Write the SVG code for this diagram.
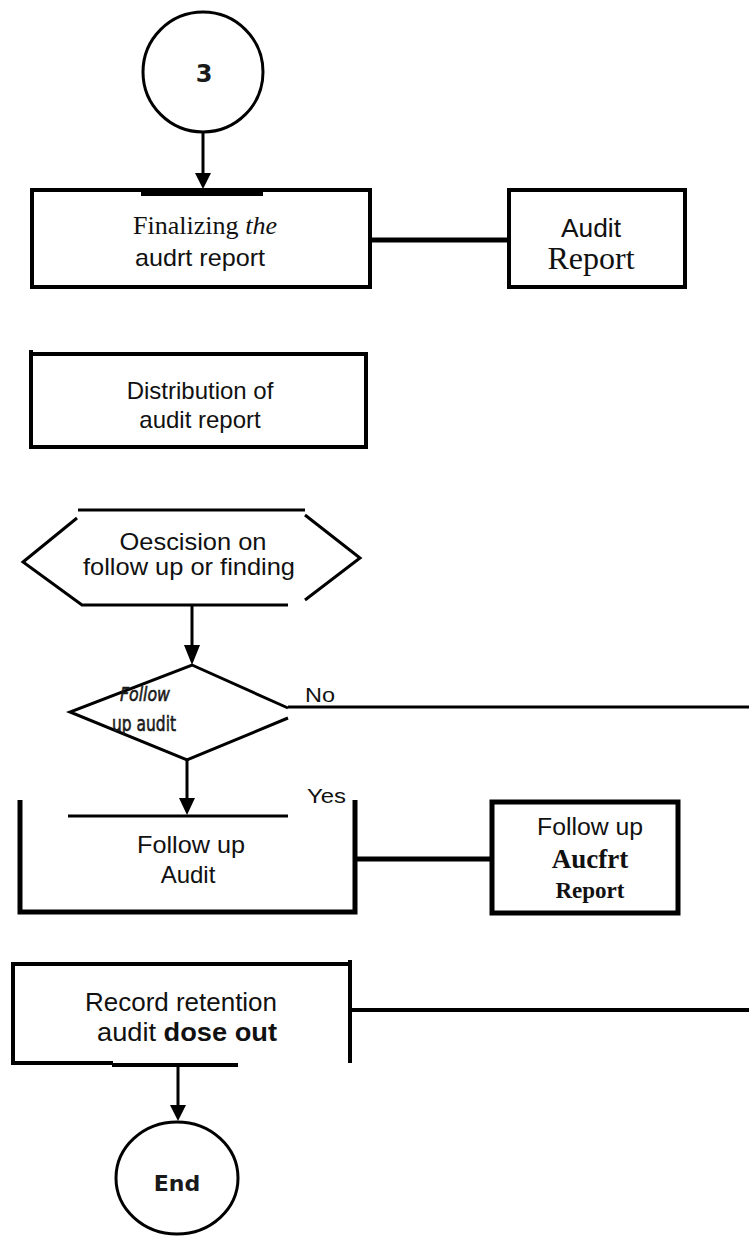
<svg xmlns="http://www.w3.org/2000/svg" width="749" height="1236" viewBox="0 0 749 1236">
  <style>
    .ln { fill: none; stroke: #000; stroke-linecap: butt; stroke-linejoin: miter; }
    .s3 { stroke-width: 3; }
    .s4 { stroke-width: 4; }
    .s5 { stroke-width: 5; }
    .box { fill: #fff; stroke: #000; }
    .sans { font-family: "Liberation Sans", Arial, sans-serif; fill: #111; text-anchor: middle; }
    .serif { font-family: "Liberation Serif", "Times New Roman", serif; fill: #111; text-anchor: middle; }
    .hand { font-family: "DejaVu Sans", "Liberation Sans", sans-serif; font-weight: bold; fill: #1a1a1a; text-anchor: middle; }
    .hand-med { font-family: "DejaVu Sans", "Liberation Sans", sans-serif; font-weight: normal; fill: #1a1a1a; text-anchor: middle; stroke: #1a1a1a; stroke-width: 0.6; }
    .tag { font-family: "Liberation Sans", Arial, sans-serif; fill: #111; }
    .head { fill: #000; }
  </style>

  <!-- start connector circle -->
  <g id="node-start">
    <circle cx="203" cy="72" r="60" class="box" stroke-width="3"/>
    <text x="204" y="82" class="hand" font-size="24">3</text>
  </g>

  <!-- finalizing step -->
  <g id="node-finalize">
    <rect x="32" y="190" width="338" height="97" class="box" stroke-width="4"/>
    <line x1="141" y1="194" x2="263" y2="194" class="ln s4"/>
    <text x="205" y="234" class="serif" font-size="25" textLength="144" lengthAdjust="spacingAndGlyphs">Finalizing <tspan font-style="italic">the</tspan></text>
    <text x="200" y="266" class="sans" font-size="24" textLength="130" lengthAdjust="spacingAndGlyphs">audrt report</text>
  </g>

  <!-- audit report document -->
  <g id="node-audit-report">
    <rect x="509" y="190" width="176" height="97" class="box" stroke-width="4"/>
    <text x="591" y="237" class="sans" font-size="25" textLength="60" lengthAdjust="spacingAndGlyphs">Audit</text>
    <text x="591" y="269" class="serif" font-size="32">Report</text>
  </g>

  <!-- distribution step -->
  <g id="node-distribution">
    <path d="M30,354 H368 M31,350 V449 M29,447 H368 M366,352 V449" class="ln s4"/>
    <text x="200" y="399" class="sans" font-size="24">Distribution of</text>
    <text x="200" y="428" class="sans" font-size="24">audit report</text>
  </g>

  <!-- decision hexagon -->
  <g id="node-decision">
    <path d="M78,510 H305 M305,515 L360,558 L305,600 M288,605 H82 L23,562 L77,518" class="ln s3"/>
    <text x="193" y="550" class="sans" font-size="24" textLength="147" lengthAdjust="spacingAndGlyphs">Oescision on</text>
    <text x="189" y="575" class="sans" font-size="24" textLength="212" lengthAdjust="spacingAndGlyphs">follow up or finding</text>
  </g>

  <!-- follow up audit? diamond -->
  <g id="node-followup-question">
    <path d="M288,708 L192,665 L70,712 L187,760 L288,718" class="ln s3"/>
    <text x="145" y="701" class="hand-med" font-size="20" font-style="italic" textLength="50" lengthAdjust="spacingAndGlyphs">Follow</text>
    <text x="144" y="731" class="hand-med" font-size="21" textLength="64" lengthAdjust="spacingAndGlyphs">up audit</text>
  </g>

  <!-- follow up audit step -->
  <g id="node-followup-audit">
    <path d="M68,816 H288" class="ln s3"/>
    <path d="M20,800 V912 H355 V800" class="ln s5"/>
    <text x="191" y="853" class="sans" font-size="24" textLength="108" lengthAdjust="spacingAndGlyphs">Follow up</text>
    <text x="188" y="883" class="sans" font-size="24">Audit</text>
  </g>

  <!-- follow up audit report document -->
  <g id="node-followup-report">
    <rect x="492" y="802" width="186" height="111" class="box" stroke-width="5"/>
    <text x="590" y="835" class="sans" font-size="23" textLength="106" lengthAdjust="spacingAndGlyphs">Follow up</text>
    <text x="590" y="868" class="serif" font-size="27" font-weight="bold">Aucfrt</text>
    <text x="590" y="898" class="serif" font-size="23" font-weight="bold">Report</text>
  </g>

  <!-- record retention step -->
  <g id="node-record">
    <path d="M13,964 H352 M13,962 V1065 M11,1063 H113 M350,960 V1063" class="ln s4"/>
    <line x1="112" y1="1065" x2="238" y2="1065" class="ln s4"/>
    <text x="181" y="1011" class="sans" font-size="25" textLength="192" lengthAdjust="spacingAndGlyphs">Record retention</text>
    <text x="187" y="1041" class="sans" font-size="25" textLength="180" lengthAdjust="spacingAndGlyphs">audit <tspan font-weight="bold">dose out</tspan></text>
  </g>

  <!-- end terminator -->
  <g id="node-end">
    <ellipse cx="177" cy="1178" rx="61" ry="56" class="box" stroke-width="3"/>
    <text x="177" y="1191" class="hand" font-size="22">End</text>
  </g>

  <!-- connectors -->
  <g id="connectors">
    <line x1="203" y1="132" x2="203" y2="176" class="ln s3"/>
    <polygon points="195,173 211,173 203,189" class="head"/>

    <line x1="370" y1="240" x2="509" y2="240" class="ln s5"/>

    <line x1="192" y1="605" x2="192" y2="650" class="ln s3"/>
    <polygon points="184,645 200,645 192,665" class="head"/>

    <line x1="288" y1="707" x2="749" y2="707" class="ln s3"/>
    <text x="305" y="702" class="tag" font-size="20" textLength="30" lengthAdjust="spacingAndGlyphs">No</text>

    <line x1="187" y1="760" x2="187" y2="800" class="ln s3"/>
    <polygon points="179,798 195,798 187,815" class="head"/>
    <text x="307" y="803" class="tag" font-size="20" textLength="39" lengthAdjust="spacingAndGlyphs">Yes</text>

    <line x1="355" y1="859" x2="492" y2="859" class="ln s5"/>

    <line x1="350" y1="1010" x2="749" y2="1010" class="ln s4"/>

    <line x1="178" y1="1065" x2="178" y2="1108" class="ln s3"/>
    <polygon points="170,1105 186,1105 178,1121" class="head"/>
  </g>
</svg>
